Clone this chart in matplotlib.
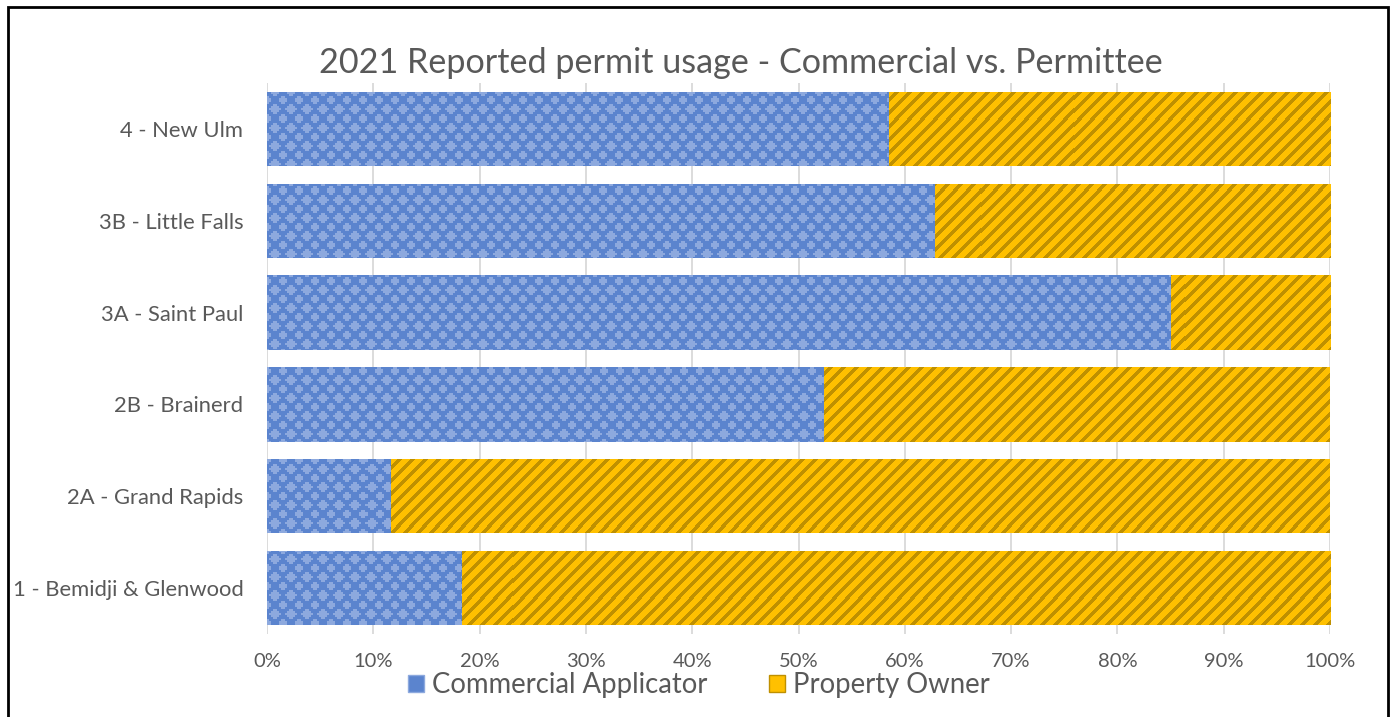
import numpy as np
import matplotlib
matplotlib.use("Agg")
import matplotlib.pyplot as plt
from matplotlib.patches import Rectangle, Patch
from matplotlib.ticker import FuncFormatter

categories = ["1 - Bemidji & Glenwood", "2A - Grand Rapids", "2B - Brainerd",
              "3A - Saint Paul", "3B - Little Falls", "4 - New Ulm"]
commercial = [18.3, 11.7, 52.4, 85.0, 62.8, 58.5]
owner = [100 - v for v in commercial]
series_names = ["Commercial Applicator", "Property Owner"]
title = "2021 Reported permit usage - Commercial vs. Permittee"

BLUE = "#5B84CE"
BLUE_LIGHT = "#8DA9DE"
GOLD = "#FFC000"
GOLD_DARK = "#BF9000"
TXT = "#595959"
plt.rcParams['font.family'] = ['Lato', 'DejaVu Sans']

W, H = 1393, 717
fig = plt.figure(figsize=(W / 100, H / 100), dpi=100)
ax_l, ax_r, ax_t, ax_b = 267, 1330, 83, 634
ax = fig.add_axes([ax_l / W, (H - ax_b) / H, (ax_r - ax_l) / W, (ax_b - ax_t) / H])

y = np.arange(len(categories))
c_frac = np.array(commercial) / 100
o_frac = np.array(owner) / 100
bars_c = ax.barh(y, c_frac, height=0.81, color=BLUE, zorder=2)
bars_o = ax.barh(y, o_frac, left=c_frac, height=0.81, color=GOLD, zorder=2)

# pixel textures (styling only)
pw, ph = ax_r - ax_l, ax_b - ax_t
yy, xx = np.indices((ph, pw))
qx = (xx // 2) * 2 + 1
qy = (yy // 2) * 2 + 1
def diamond(px, py, ox, oy, PX=16, PY=18):
    dx = np.abs(((px - ox) + PX / 2) % PX - PX / 2) / (PX / 2)
    dy = np.abs(((py - oy) + PY / 2) % PY - PY / 2) / (PY / 2)
    return dx + dy <= 0.68
light = diamond(qx, qy, 0, 0) | diamond(qx, qy, 8, 9)
blue_rgb = np.array(matplotlib.colors.to_rgb(BLUE))
blue_l_rgb = np.array(matplotlib.colors.to_rgb(BLUE_LIGHT))
tex_b = np.where(light[..., None], blue_l_rgb, blue_rgb)
dark = ((xx + yy) % 13) < 5
gold_rgb = np.array(matplotlib.colors.to_rgb(GOLD))
gold_d_rgb = np.array(matplotlib.colors.to_rgb(GOLD_DARK))
tex_g = np.where(dark[..., None], gold_d_rgb, gold_rgb)

ext = (0, 1, -0.5, len(categories) - 0.5)
for bars, tex in ((bars_c, tex_b), (bars_o, tex_g)):
    for b in bars:
        im = ax.imshow(tex, extent=ext, interpolation="nearest", aspect="auto", zorder=3)
        im.set_clip_path(b)
ax.set_xlim(0, 1)
ax.set_ylim(-0.5, len(categories) - 0.5)

ax.set_xticks(np.linspace(0, 1, 11))
ax.xaxis.set_major_formatter(FuncFormatter(lambda v, p: f"{v*100:.0f}%"))
ax.set_yticks(y)
ax.set_yticklabels(categories)
ax.tick_params(axis="both", length=0, colors=TXT)
ax.tick_params(axis="x", pad=14, labelsize=14.5)
ax.tick_params(axis="y", pad=17, labelsize=15.8)
ax.grid(axis="x", color="#D9D9D9", linewidth=1.3, zorder=0)
ax.set_axisbelow(True)
for s in ax.spines.values():
    s.set_visible(False)

fig.text(741 / W, 1 - 63 / H, title, ha="center", va="center", fontsize=24.6, color=TXT)

handles = [Patch(facecolor=BLUE, edgecolor=BLUE_LIGHT), Patch(facecolor=GOLD, edgecolor=GOLD_DARK)]
leg = fig.legend(handles, series_names, loc="center", bbox_to_anchor=(699 / W, 1 - 685 / H),
                 ncol=2, frameon=False, fontsize=19.8, handlelength=0.58, handleheight=0.58,
                 handletextpad=0.3, columnspacing=2.25, labelcolor=TXT)

fig.patches.append(Rectangle((7.5 / W, -0.05), (1388 - 7.5) / W, 1.05 - 6.5 / H,
                             transform=fig.transFigure, fill=False, edgecolor="black",
                             linewidth=2, zorder=10))

fig.savefig("out.png", dpi=100, facecolor="white")
